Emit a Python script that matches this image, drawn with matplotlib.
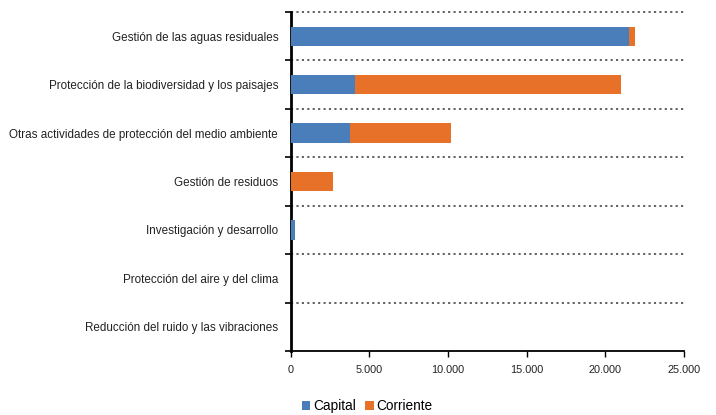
import matplotlib
matplotlib.use("Agg")
import matplotlib.pyplot as plt
from matplotlib.ticker import FuncFormatter, FixedLocator
import numpy as np

categories = [
    "Gestión de las aguas residuales",
    "Protección de la biodiversidad y los paisajes",
    "Otras actividades de protección del medio ambiente",
    "Gestión de residuos",
    "Investigación y desarrollo",
    "Protección del aire y del clima",
    "Reducción del ruido y las vibraciones",
]
capital = [21500, 4100, 3750, 0, 250, 0, 0]
corriente = [400, 16900, 6430, 2690, 0, 0, 0]
xticks = [0, 5000, 10000, 15000, 20000, 25000]
series_names = ["Capital", "Corriente"]

blue = "#4a7ebb"
orange = "#e8712a"

plt.rcParams["font.family"] = ["Liberation Sans", "DejaVu Sans"]

fig = plt.figure(figsize=(7.16, 4.15), dpi=100)
ax = fig.add_axes([0.406, 0.154, 0.549, 0.817])

n = len(categories)
y = np.arange(n)
ax.barh(y, capital, height=0.4, color=blue, label=series_names[0], zorder=3)
ax.barh(y, corriente, left=capital, height=0.4, color=orange, label=series_names[1], zorder=3)

ax.set_ylim(n - 0.5, -0.5)
ax.set_xlim(0, 25000)

# dotted gridlines at category boundaries
for b in np.arange(-0.5, n - 0.5, 1.0):
    ax.plot([0, 25000], [b, b], linestyle=(0, (1.2, 1.8)), color="#555555",
            linewidth=1.3, zorder=1, clip_on=False)

ax.set_yticks(y)
ax.set_yticklabels(categories, fontsize=8.4, color="#222222")
ax.yaxis.set_minor_locator(FixedLocator(np.arange(-0.5, n, 1.0)))
ax.tick_params(axis="y", which="major", length=0, pad=9)
ax.tick_params(axis="y", which="minor", length=4, width=1.2, color="black")

ax.set_xticks(xticks)
ax.xaxis.set_major_formatter(FuncFormatter(lambda v, p: f"{int(v):,}".replace(",", ".")))
ax.tick_params(axis="x", length=4, width=1.0, labelsize=7.8, colors="black", labelcolor="#222222", pad=6)

for s in ["top", "right"]:
    ax.spines[s].set_visible(False)
ax.spines["left"].set_linewidth(2.0)
ax.spines["bottom"].set_linewidth(1.3)

handles, labels = ax.get_legend_handles_labels()
leg = fig.legend(handles, labels, loc="lower left", bbox_to_anchor=(0.405, -0.025), ncol=2,
                 frameon=False, fontsize=9.8, handlelength=0.6, handleheight=0.6,
                 handletextpad=0.2, columnspacing=0.7)

fig.savefig("out.png", dpi=100)
